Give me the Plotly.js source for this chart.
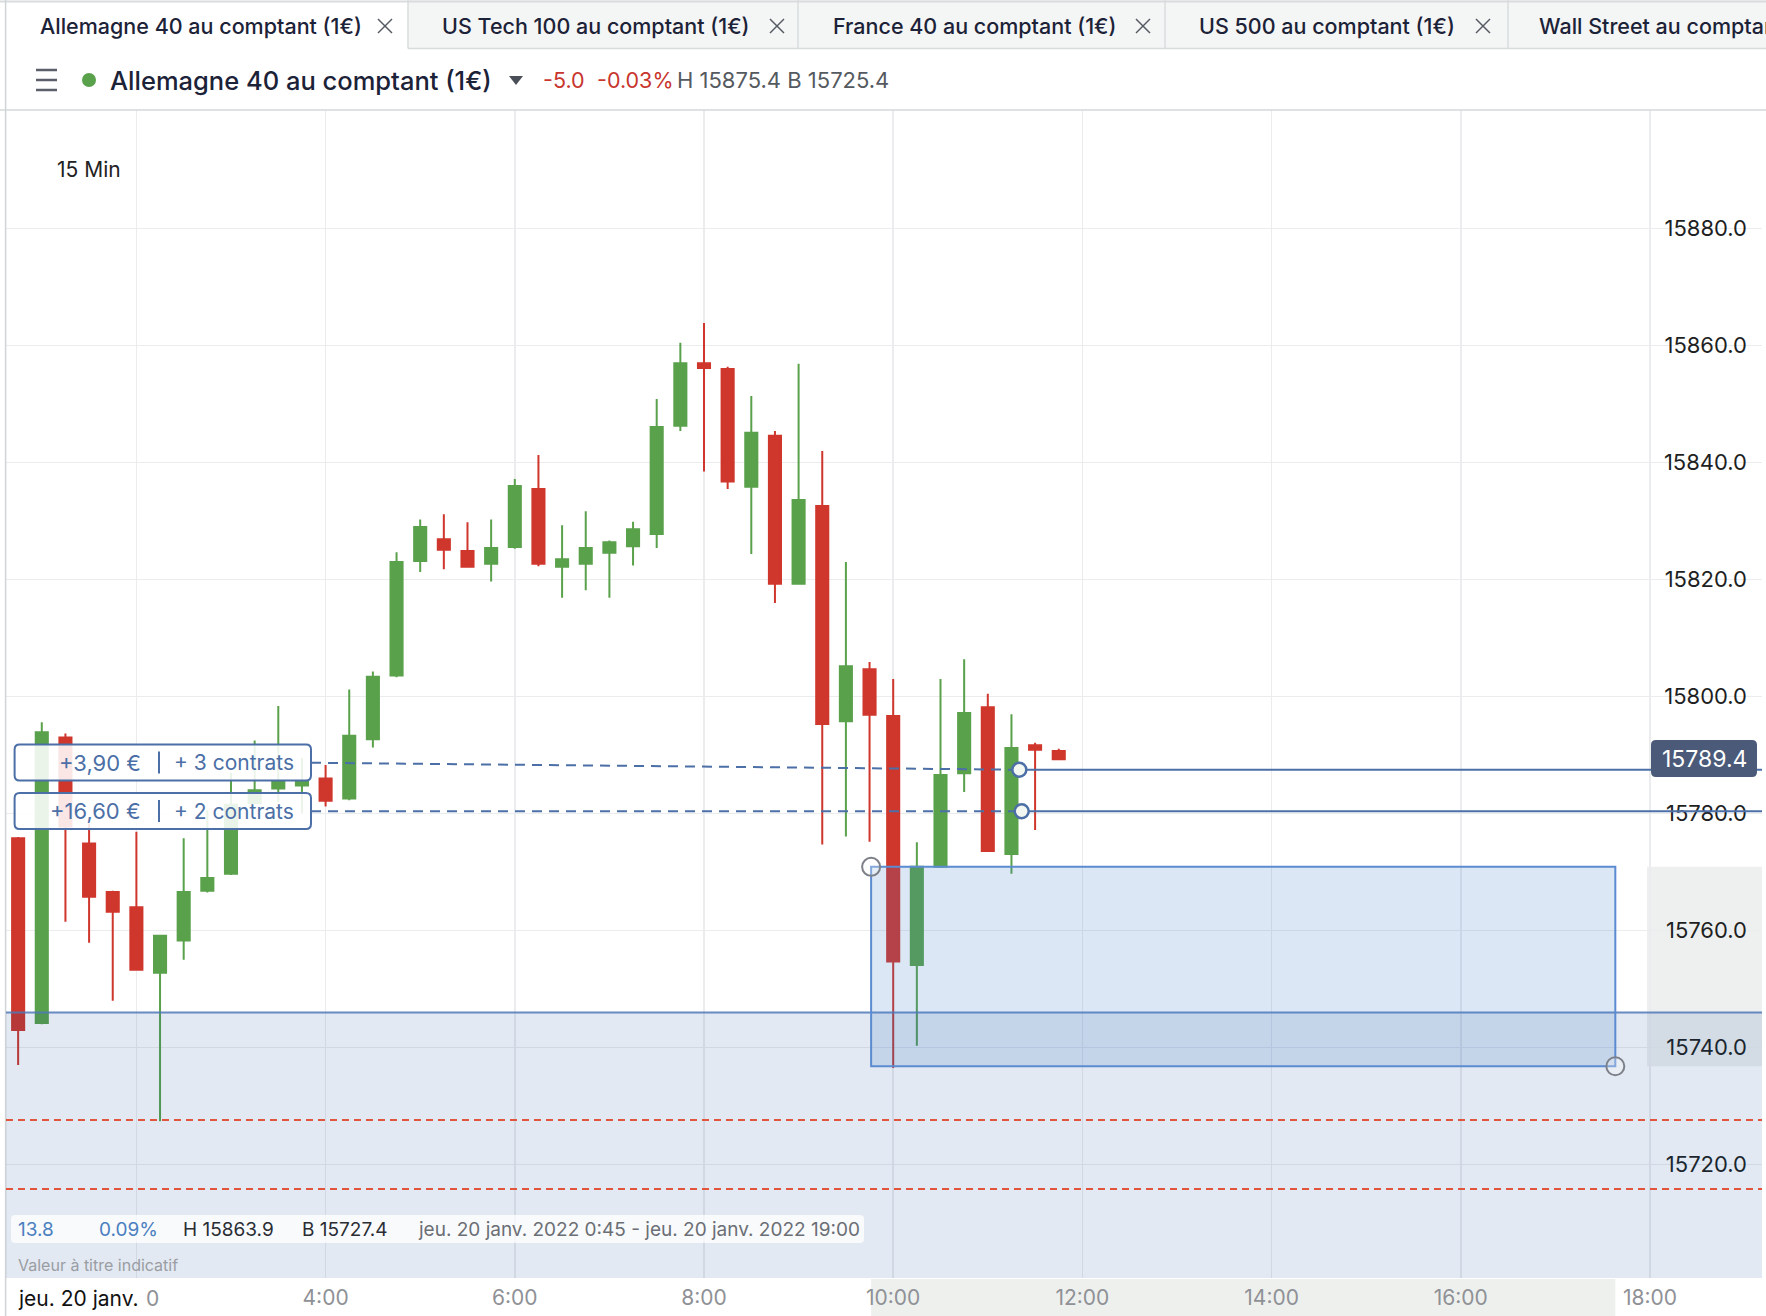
<!DOCTYPE html>
<html><head><meta charset="utf-8">
<script src="https://cdn.plot.ly/plotly-3.0.1.min.js"></script>
<style>html,body{margin:0;padding:0;background:#fff;overflow:hidden}#chart{width:1766px;height:1316px}</style>
</head><body><div id="chart"></div>
<script>
// ---------- data ----------
const times = ["00:45","01:00","01:15","01:30","01:45","02:00","02:15","02:30","02:45","03:00",
"03:15","03:30","03:45","04:00","04:15","04:30","04:45","05:00","05:15","05:30",
"05:45","06:00","06:15","06:30","06:45","07:00","07:15","07:30","07:45","08:00",
"08:15","08:30","08:45","09:00","09:15","09:30","09:45","10:00","10:15","10:30",
"10:45","11:00","11:15","11:30","11:45"].map(t => "2022-01-20 " + t);
const opens = [15775.8,15744.2,15793.0,15774.9,15766.6,15764.0,15752.8,15758.3,15766.8,15769.7,
15781.8,15784.3,15784.8,15786.0,15782.6,15792.7,15803.6,15823.2,15826.9,15824.9,
15822.7,15825.6,15835.5,15822.2,15822.7,15824.6,15825.7,15827.8,15846.3,15857.0,
15856.0,15835.9,15844.6,15819.3,15832.6,15795.8,15804.7,15796.7,15754.1,15770.9,
15786.9,15798.2,15773.1,15791.7,15790.7];
const highs = [15776.0,15795.6,15793.7,15778.3,15766.8,15776.9,15759.2,15775.8,15780.6,15787.0,
15792.5,15798.4,15789.5,15788.3,15801.2,15804.3,15824.7,15830.3,15831.2,15829.8,
15830.3,15837.2,15841.3,15829.3,15831.7,15826.7,15829.9,15850.9,15860.5,15863.9,
15856.4,15851.4,15845.4,15856.9,15842.0,15823.0,15805.9,15803.0,15775.1,15803.0,
15806.4,15800.5,15797.0,15792.1,15791.1];
const lows = [15737.0,15744.0,15761.5,15757.9,15748.0,15753.2,15727.4,15755.0,15766.5,15769.5,
15781.8,15782.0,15780.0,15781.2,15782.3,15791.3,15803.3,15821.3,15821.8,15822.2,
15819.7,15825.3,15822.3,15816.9,15818.2,15816.9,15822.4,15825.4,15845.4,15838.5,
15835.5,15824.4,15816.0,15819.3,15774.7,15776.1,15775.2,15736.5,15740.3,15770.9,
15783.7,15773.6,15769.7,15777.2,15789.3];
const closes = [15743.0,15793.9,15777.8,15765.8,15763.2,15753.3,15759.1,15766.6,15769.0,15781.5,
15784.0,15785.5,15785.5,15782.2,15793.3,15803.4,15823.0,15829.0,15825.1,15822.2,
15825.4,15836.0,15822.7,15823.5,15825.4,15826.4,15828.6,15846.1,15857.0,15856.2,
15836.8,15845.1,15819.3,15833.6,15795.3,15805.2,15796.9,15754.7,15770.9,15786.6,
15797.2,15773.6,15791.2,15790.9,15789.3];

const yTickVals = [15720,15740,15760,15780,15800,15820,15840,15860,15880];
const yTickText = ["15720.0","15740.0","15760.0","15780.0","15800.0","15820.0","15840.0","15860.0","15880.0"];
const xTickVals = ["02:00","04:00","06:00","08:00","10:00","12:00","14:00","16:00","18:00"].map(t => "2022-01-20 " + t);
const xTickText = ["","4:00","6:00","8:00","10:00","12:00","14:00","16:00","18:00"];
const firstTickVisible = "0"; // the part of "2:00" left visible next to the date label

const lastPrice = 15789.4;
const positionPnL = ["+3,90 €", "+16,60 €"];
const positionQty = ["+ 3 contrats", "+ 2 contrats"];
const positionLevels = [15787.5, 15780.4];
const positionStartLevels = [15788.7, 15780.4];
const positionTimes = ["2022-01-20 11:20", "2022-01-20 11:21:30"];
const positionStartTime = "2022-01-20 03:50:45";
const zoneLevel = 15746.0;
const alertLevels = [15727.6, 15715.8];
const boxTimes = ["2022-01-20 09:46", "2022-01-20 17:38"];
const boxLevels = [15770.9, 15736.8];

const tabs = ["Allemagne 40 au comptant (1€)", "US Tech 100 au comptant (1€)", "France 40 au comptant (1€)", "US 500 au comptant (1€)", "Wall Street au comptant (1€)"];
const instrument = "Allemagne 40 au comptant (1€)";
const change = ["-5.0", "-0.03%"];
const hiLo = "H 15875.4 B 15725.4";
const period = "15 Min";
const rangeStats = ["13.8", "0.09%", "H 15863.9", "B 15727.4", "jeu. 20 janv. 2022 0:45 - jeu. 20 janv. 2022 19:00"];
const disclaimer = "Valeur à titre indicatif";
const dateLabel = "jeu. 20 janv.";

// ---------- geometry helpers (pixels -> paper) ----------
const PL = 6, PR = 1762, PT = 110, PB = 1278;
const fx = p => (p - PL) / (PR - PL);
const fy = p => (PB - p) / (PB - PT);
function rrect(x0, y0, x1, y1, r) {
  const P = (x, y) => fx(x).toFixed(5) + "," + fy(y).toFixed(5);
  return "M" + P(x0 + r, y0) + " L" + P(x1 - r, y0) + " Q" + P(x1, y0) + " " + P(x1, y0 + r) +
    " L" + P(x1, y1 - r) + " Q" + P(x1, y1) + " " + P(x1 - r, y1) +
    " L" + P(x0 + r, y1) + " Q" + P(x0, y1) + " " + P(x0, y1 - r) +
    " L" + P(x0, y0 + r) + " Q" + P(x0, y0) + " " + P(x0 + r, y0) + " Z";
}
const FONT = "Inter, 'Noto Sans', sans-serif";
const shapes = [];
const annotations = [];
function ann(text, x, y, size, color, anchor, weight) {
  annotations.push({text: text, xref: "paper", yref: "paper", x: fx(x), y: fy(y),
    xanchor: anchor || "left", yanchor: "middle", showarrow: false,
    font: {family: FONT, size: size, color: color, weight: weight || 400}});
}
function pline(x0, y0, x1, y1, color, width, layer) {
  shapes.push({type: "line", xref: "paper", yref: "paper", x0: fx(x0), y0: fy(y0), x1: fx(x1), y1: fy(y1),
    line: {color: color, width: width}, layer: layer || "above"});
}
function prect(x0, y0, x1, y1, fill, layer) {
  shapes.push({type: "rect", xref: "paper", yref: "paper", x0: fx(x0), y0: fy(y0), x1: fx(x1), y1: fy(y1),
    fillcolor: fill, line: {width: 0}, layer: layer || "below"});
}

// ---------- header ----------
const tabEdges = [6, 408, 798, 1165, 1508, 1766];
const tabTextX = [38, 440, 831, 1197, 1537];
const tabCloseX = [385, 777, 1143, 1483];
prect(408, 0, 1766, 48.5, "#f4f5f5", "below");
pline(0, 1.5, 1766, 1.5, "#d9dcdd", 2);
pline(408, 48.5, 1766, 48.5, "#d9dcdd", 1.5);
for (let i = 1; i < tabEdges.length - 1; i++) pline(tabEdges[i], 0, tabEdges[i], 48.5, "#d9dcdd", 1.5);
tabs.forEach((t, i) => ann(t, tabTextX[i], 26, 21.5, "#1c2237", "left", 500));
tabCloseX.forEach(cx => { pline(cx - 7, 19, cx + 7, 33, "#555a63", 1.5); pline(cx - 7, 33, cx + 7, 19, "#555a63", 1.5); });
pline(0, 110, 1766, 110, "#d5d8da", 1.5);
pline(5.6, 0, 5.6, 1316, "#d0d4d6", 1.5);
[70, 80, 90].forEach(y => pline(36, y, 57, y, "#5b5f6a", 2.5));
shapes.push({type: "circle", xref: "paper", yref: "paper", x0: fx(82), x1: fx(96), y0: fy(73), y1: fy(87),
  fillcolor: "#5aa14b", line: {width: 0}, layer: "above"});
ann(instrument, 108, 80, 25.5, "#1c2237", "left", 500);
shapes.push({type: "path", xref: "paper", yref: "paper",
  path: "M" + fx(509) + "," + fy(76) + " L" + fx(523) + "," + fy(76) + " L" + fx(516) + "," + fy(85) + " Z",
  fillcolor: "#4a4e57", line: {width: 0}, layer: "above"});
ann(change[0], 541, 80, 21.5, "#c8362e", "left");
ann(change[1], 595, 80, 21.5, "#c8362e", "left");
ann(hiLo, 675, 80, 22, "#555a60", "left");
ann(period, 55, 170, 21, "#222", "left");

// ---------- overlays on the chart ----------
shapes.push({type: "rect", xref: "paper", yref: "y", x0: 0, x1: 1, y0: 15690, y1: zoneLevel,
  fillcolor: "rgba(15,71,151,0.12)", line: {width: 0}, layer: "above"});
shapes.push({type: "line", xref: "paper", yref: "y", x0: 0, x1: 1, y0: zoneLevel, y1: zoneLevel,
  line: {color: "rgba(80,120,185,0.85)", width: 2}, layer: "above"});
alertLevels.forEach(v => shapes.push({type: "line", xref: "paper", yref: "y", x0: 0, x1: 1, y0: v, y1: v,
  line: {color: "#e2553d", width: 2, dash: "7px,5px"}, layer: "above"}));
shapes.push({type: "rect", xref: "paper", yref: "y", x0: fx(1647), x1: 1, y0: boxLevels[1], y1: boxLevels[0],
  fillcolor: "#eef0ef", line: {width: 0}, layer: "below"});
shapes.push({type: "rect", xref: "x", yref: "paper", x0: boxTimes[0], x1: boxTimes[1], y0: fy(1316), y1: fy(1279),
  fillcolor: "#eef0ee", line: {width: 0}, layer: "below"});
shapes.push({type: "rect", xref: "x", yref: "y", x0: boxTimes[0], x1: boxTimes[1], y0: boxLevels[1], y1: boxLevels[0],
  fillcolor: "rgba(60,120,200,0.18)", line: {color: "#5b8bd0", width: 2}, layer: "above"});
positionLevels.forEach((v, i) => {
  shapes.push({type: "line", xref: "x", yref: "y", x0: positionStartTime, x1: positionTimes[i],
    y0: positionStartLevels[i], y1: v, line: {color: "#4b6fa6", width: 2, dash: "10px,7px"}, layer: "above"});
  shapes.push({type: "line", xref: "x", yref: "y", x0: positionTimes[i], x1: "2022-01-20 20:00",
    y0: v, y1: v, line: {color: "#4b6fa6", width: 2}, layer: "above"});
});
function circ(xv, yv, r, fill, color, w) {
  shapes.push({type: "circle", xref: "x", yref: "y", xsizemode: "pixel", ysizemode: "pixel",
    xanchor: xv, yanchor: yv, x0: -r, x1: r, y0: -r, y1: r, fillcolor: fill,
    line: {color: color, width: w}, layer: "above"});
}
positionLevels.forEach((v, i) => circ(positionTimes[i], v, 7, "#f2f7f1", "#4b6fa6", 2.5));
circ(boxTimes[0], boxLevels[0], 9, "rgba(255,255,255,0.25)", "#7d8088", 2);
circ(boxTimes[1], boxLevels[1], 9, "rgba(255,255,255,0.25)", "#7d8088", 2);
const boxY = [[744.5, 780.5], [793, 829]];
boxY.forEach((b, i) => {
  shapes.push({type: "path", xref: "paper", yref: "paper", path: rrect(14.6, b[0], 311, b[1], 5),
    fillcolor: "rgba(255,255,255,0.88)", line: {color: "#4b6fa6", width: 2}, layer: "above"});
  pline(159, b[0] + 7, 159, b[1] - 7, "#4b6fa6", 2);
  const cy = (b[0] + b[1]) / 2;
  ann(positionPnL[i], 143, cy, 22, "#4b6fa6", "right");
  ann(positionQty[i], 172, cy, 21, "#4b6fa6", "left");
});
shapes.push({type: "path", xref: "paper", yref: "paper", path: rrect(1651, 740, 1757, 777, 5),
  fillcolor: "#4a5a78", line: {width: 0}, layer: "above"});
annotations.push({text: lastPrice.toFixed(1), xref: "paper", yref: "y", x: fx(1704), y: lastPrice,
  xanchor: "center", yanchor: "middle", showarrow: false, font: {family: FONT, size: 23, color: "#ffffff"}});
shapes.push({type: "path", xref: "paper", yref: "paper", path: rrect(11, 1215, 864, 1243, 4),
  fillcolor: "rgba(255,255,255,0.75)", line: {width: 0}, layer: "above"});
const statX = [16, 97, 181, 300, 416];
const statC = ["#4a7fc1", "#4a7fc1", "#2a2d33", "#2a2d33", "#6b6e74"];
rangeStats.forEach((s, i) => ann(s, statX[i], 1229, 19, statC[i], "left"));
ann(disclaimer, 16, 1265, 16, "#9a9da3", "left");
ann(dateLabel, 16, 1298, 21, "#111", "left");
ann(firstTickVisible, 152.5, 1298, 21, "#8f9196", "center");

// ---------- traces ----------
const trace = {
  type: "candlestick", x: times, open: opens, high: highs, low: lows, close: closes,
  increasing: {line: {color: "#5aa14b", width: 2}, fillcolor: "#5aa14b"},
  decreasing: {line: {color: "#cf362c", width: 2}, fillcolor: "#cf362c"},
  whiskerwidth: 0, hoverinfo: "skip"
};

const layout = {
  width: 1766, height: 1316,
  margin: {l: PL, r: 1766 - PR, t: PT, b: 1316 - PB, pad: 0},
  paper_bgcolor: "#ffffff", plot_bgcolor: "#ffffff",
  showlegend: false, hovermode: false, dragmode: false,
  boxgap: 0.27,
  font: {family: FONT},
  xaxis: {
    type: "date", range: ["2022-01-20 00:37:18", "2022-01-20 19:11:02"],
    tickvals: xTickVals, ticktext: xTickText, showgrid: true, gridcolor: "#ebecee", gridwidth: 1.5,
    zeroline: false, showline: false, ticks: "", ticklabelstandoff: 5,
    tickfont: {family: FONT, size: 21, color: "#8f9196"},
    rangeslider: {visible: false}, fixedrange: true
  },
  yaxis: {
    range: [15700.6, 15900.3], side: "right", ticklabelposition: "inside",
    tickvals: yTickVals, ticktext: yTickText, showgrid: true, gridcolor: "#ebecee", gridwidth: 1.5,
    zeroline: false, showline: false, ticks: "", ticklabelstandoff: 12,
    tickfont: {family: FONT, size: 22, color: "#1e1f23"}, fixedrange: true
  },
  shapes: shapes,
  annotations: annotations
};
Plotly.newPlot("chart", [trace], layout, {staticPlot: true, displayModeBar: false});
</script></body></html>
